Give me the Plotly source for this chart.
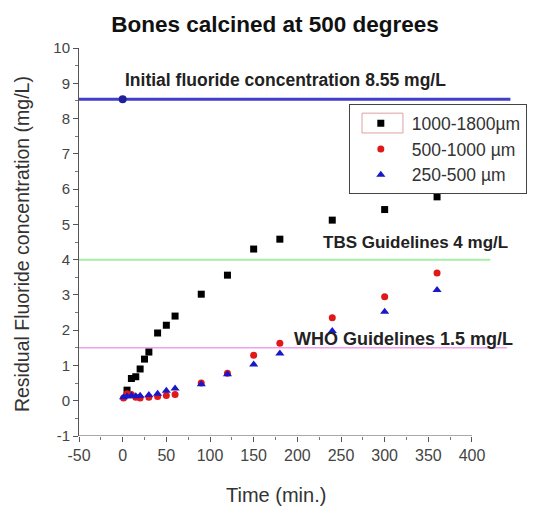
import plotly.graph_objects as go

# ---- data ----
t_black = [5, 10, 15, 20, 25, 30, 40, 50, 60, 90, 120, 150, 180, 240, 300, 360]
v_black = [0.30, 0.63, 0.68, 0.90, 1.18, 1.38, 1.92, 2.14, 2.40, 3.02, 3.56, 4.30, 4.58, 5.12, 5.42, 5.78]

t_red = [1, 5, 10, 15, 20, 30, 40, 50, 60, 90, 120, 150, 180, 240, 300, 360]
v_red = [0.08, 0.20, 0.18, 0.10, 0.08, 0.10, 0.12, 0.15, 0.18, 0.50, 0.78, 1.29, 1.63, 2.35, 2.95, 3.62]

t_blue = [1, 5, 10, 15, 20, 30, 40, 50, 60, 90, 120, 150, 180, 240, 300, 360]
v_blue = [0.10, 0.12, 0.15, 0.13, 0.14, 0.16, 0.20, 0.28, 0.35, 0.47, 0.75, 1.03, 1.34, 1.98, 2.52, 3.14]

initial_t = [0]
initial_v = [8.55]

ref_levels = [8.55, 4.0, 1.5]
ref_colors = ["#3f3fc8", "#a6eea6", "#f0a0ee"]
ref_widths = [3, 2, 1.5]
ref_ends = [444, 421, 440]

x_ticks = [-50, 0, 50, 100, 150, 200, 250, 300, 350, 400]
x_tick_text = ["-50", "0", "50", "100", "150", "200", "250", "300", "350", "400"]
y_ticks = [-1, 0, 1, 2, 3, 4, 5, 6, 7, 8, 9, 10]
y_tick_text = ["-1", "0", "1", "2", "3", "4", "5", "6", "7", "8", "9", "10"]

FONT = "Liberation Sans, Arial, sans-serif"

fig = go.Figure()

# reference lines
for lvl, col, w, end in zip(ref_levels, ref_colors, ref_widths, ref_ends):
    fig.add_trace(go.Scatter(x=[-50, end], y=[lvl, lvl], mode="lines",
                             line=dict(color=col, width=w), showlegend=False,
                             hoverinfo="skip"))

fig.add_trace(go.Scatter(x=t_black, y=v_black, mode="markers", name="1000-1800µm",
                         marker=dict(symbol="square", size=7, color="black")))
fig.add_trace(go.Scatter(x=t_red, y=v_red, mode="markers", name="500-1000 µm",
                         marker=dict(symbol="circle", size=7, color="#e01818")))
fig.add_trace(go.Scatter(x=t_blue, y=v_blue, mode="markers", name="250-500 µm",
                         marker=dict(symbol="triangle-up", size=8, color="#1818c8")))
fig.add_trace(go.Scatter(x=initial_t, y=initial_v, mode="markers", showlegend=False,
                         marker=dict(symbol="circle", size=8, color="#20209a")))

fig.update_layout(
    width=534, height=509,
    margin=dict(l=79, r=0, t=48, b=73),
    paper_bgcolor="white", plot_bgcolor="white",
    font=dict(family=FONT, color="#222"),
    title=dict(text="<b>Bones calcined at 500 degrees</b>",
               font=dict(size=22.5, color="#111"),
               x=0.515, xanchor="center", y=0.953, yanchor="middle"),
    showlegend=True,
    legend=dict(x=0.593, y=0.855, xanchor="left", yanchor="top",
                bgcolor="rgba(255,255,255,0)", bordercolor="#444", borderwidth=1,
                font=dict(size=17.5, color="#333"), itemwidth=52,
                tracegroupgap=0),
    xaxis=dict(range=[-50, 471], tickvals=x_ticks, ticktext=x_tick_text,
               ticks="outside", ticklen=5,
               tickcolor="#555", tickfont=dict(family=FONT, size=16, color="#444"),
               showgrid=False, zeroline=False, showline=False,
               minor=dict(tickvals=[-25, 25, 75, 125, 175, 225, 275, 325, 375],
                          ticks="outside", ticklen=3, tickcolor="#777")),
    yaxis=dict(range=[-1, 10], tickvals=y_ticks, ticktext=y_tick_text,
               ticks="outside", ticklen=5,
               tickcolor="#555", tickfont=dict(family=FONT, size=15, color="#444"),
               showgrid=False, zeroline=False, showline=True, linecolor="#555",
               linewidth=1,
               minor=dict(dtick=0.5, ticks="outside", ticklen=3, tickcolor="#777")),
)

# bottom axis line (spans only the labelled range)
fig.add_shape(type="line", xref="x", yref="y", x0=-50, x1=400, y0=-1, y1=-1,
              line=dict(color="#555", width=1))

# Origin-style highlight box around the first legend symbol
fig.add_shape(type="rect", xref="paper", yref="paper",
              x0=0.622, x1=0.712, y0=0.781, y1=0.832,
              line=dict(color="#e0a0a0", width=1))

fig.add_annotation(text="Time (min.)", xref="x", yref="paper", x=175, y=-0.152,
                   showarrow=False, font=dict(family=FONT, size=20, color="#333"),
                   xanchor="center", yanchor="middle")
fig.add_annotation(text="Residual Fluoride concentration (mg/L)", xref="paper", yref="paper",
                   x=-0.125, y=0.495, textangle=-90, showarrow=False,
                   font=dict(family=FONT, size=19.5, color="#333"),
                   xanchor="center", yanchor="middle")

ann_font = dict(family=FONT, color="#222")
fig.add_annotation(text="<b>Initial fluoride concentration 8.55 mg/L</b>", x=0, y=9.08,
                   xref="x", yref="y", showarrow=False, xanchor="left", yanchor="middle",
                   font=dict(size=17.5, **ann_font))
fig.add_annotation(text="<b>TBS Guidelines 4 mg/L</b>", x=227, y=4.5,
                   xref="x", yref="y", showarrow=False, xanchor="left", yanchor="middle",
                   font=dict(size=17, **ann_font))
fig.add_annotation(text="<b>WHO Guidelines 1.5 mg/L</b>", x=194, y=1.75,
                   xref="x", yref="y", showarrow=False, xanchor="left", yanchor="middle",
                   font=dict(size=18, **ann_font))

fig.write_html("out.html", config={"displayModeBar": False},
               post_script="document.body.style.margin='0';")
